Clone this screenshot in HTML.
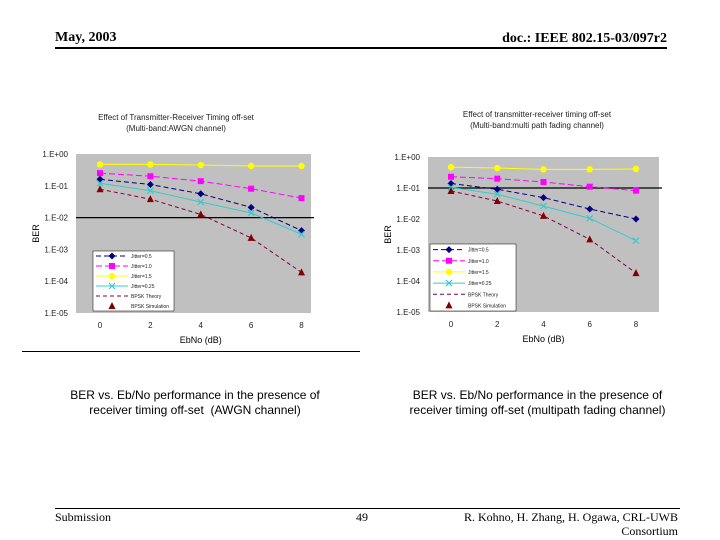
<!DOCTYPE html>
<html><head><meta charset="utf-8"><style>
body{margin:0;width:720px;height:540px;background:#fff;position:relative;overflow:hidden;font-family:"Liberation Sans",sans-serif}
.t{position:absolute;white-space:nowrap}
.serif{font-family:"Liberation Serif",serif}
</style></head><body>
<div class="t serif" style="left:55px;top:30px;font-size:14px;font-weight:bold">May, 2003</div>
<div class="t serif" style="right:53px;top:31px;font-size:14px;font-weight:bold">doc.: IEEE 802.15-03/097r2</div>
<div style="position:absolute;left:55px;top:47px;width:612px;height:2px;background:#000"></div>
<div style="position:absolute;left:22px;top:351px;width:338px;height:1px;background:#000"></div>
<div class="t" style="left:40px;top:388px;width:310px;text-align:center;font-size:12px;line-height:15px">BER vs. Eb/No performance in the presence of<br>receiver timing off-set&nbsp; (AWGN channel)</div>
<div class="t" style="left:385px;top:388px;width:305px;text-align:center;font-size:12px;line-height:15px">BER vs. Eb/No performance in the presence of<br>receiver timing off-set (multipath fading channel)</div>
<div style="position:absolute;left:55px;top:508px;width:625px;height:1px;background:#000"></div>
<div class="t serif" style="left:55px;top:510px;font-size:12px">Submission</div>
<div class="t serif" style="left:356px;top:510px;font-size:12px">49</div>
<div class="t serif" style="right:42px;top:510px;font-size:12px;text-align:right;line-height:14px">R. Kohno, H. Zhang, H. Ogawa, CRL-UWB<br>Consortium</div>
<svg id="svg" width="720" height="540" style="position:absolute;left:0;top:0"></svg>
<script>
const xCats=[0,2,4,6,8];
const yTicks=["1.E+00","1.E-01","1.E-02","1.E-03","1.E-04","1.E-05"];
const legendNames=["Jitter=0.5","Jitter=1.0","Jitter=1.5","Jitter=0.25","BPSK Theory","BPSK Simulation"];
const awgnJ05=[0.16,0.11,0.056,0.021,0.0039];
const awgnJ10=[0.25,0.2,0.14,0.081,0.041];
const awgnJ15=[0.47,0.47,0.45,0.42,0.42];
const awgnJ025=[0.12,0.07,0.031,0.014,0.003];
const awgnTheory=[0.078,0.038,0.0126,0.0023,0.00019];
const awgnSim=[0.078,0.038,0.0126,0.0023,0.00019];
const fadJ05=[0.14,0.091,0.049,0.021,0.01];
const fadJ10=[0.23,0.2,0.156,0.11,0.082];
const fadJ15=[0.47,0.44,0.40,0.40,0.41];
const fadJ025=[0.105,0.063,0.026,0.0105,0.002];
const fadTheory=[0.08,0.038,0.0126,0.0022,0.00018];
const fadSim=[0.08,0.038,0.0126,0.0022,0.00018];
const NS="http://www.w3.org/2000/svg";
const svg=document.getElementById('svg');
function el(tag,attrs,parent){const e=document.createElementNS(NS,tag);for(const k in attrs)e.setAttribute(k,attrs[k]);(parent||svg).appendChild(e);return e;}
function chart(c){
  const g=el('g',{});
  
  
  const xs=v=>c.x0+(v-xCats[0])/(xCats[xCats.length-1]-xCats[0])*(c.x8-c.x0);
  const ys=v=>c.top+(-Math.log10(v))*(c.bot-c.top)/5;
  const bg=el('rect',{x:c.l,y:c.top,width:c.r-c.l,height:c.bot-c.top,fill:'#c0c0c0'},g);
  
  
  const t1=el('text',{x:c.tx,y:c.ty,'font-size':8,'text-anchor':'middle',fill:'#222'},g);t1.textContent=c.title1;
  
  
  const t2=el('text',{x:c.tx,y:c.ty+11,'font-size':8,'text-anchor':'middle',fill:'#222'},g);t2.textContent=c.title2;
  
  
  yTicks.forEach((lab,i)=>{
    const y=c.top+i*(c.bot-c.top)/5;
    const t=el('text',{x:c.l-8,y:y+3,'font-size':8,'text-anchor':'end',fill:'#222'},g);t.textContent=lab;
    
    
  });
  xCats.forEach(v=>{
    const t=el('text',{x:xs(v),y:c.bot+15,'font-size':8,'text-anchor':'middle',fill:'#222'},g);t.textContent=v;
    
    
  });
  const yt=el('text',{x:0,y:0,'font-size':9,'text-anchor':'middle',transform:`translate(${c.l-37},${(c.top+c.bot)/2}) rotate(-90)`},g);yt.textContent='BER';
  
  
  const xt=el('text',{x:(c.x0+c.x8)/2,y:c.bot+30,'font-size':9,'text-anchor':'middle'},g);xt.textContent='EbNo (dB)';
  
  
  const ref=el('line',{x1:c.l,x2:c.r+3,y1:ys(c.refLine),y2:ys(c.refLine),stroke:'#000','stroke-width':1.2},g);
  
  
  const series=[
    {d:c.s[0],col:'#000080',dash:'5,3',m:'diamond'},
    {d:c.s[1],col:'#ff00ff',dash:'6,3',m:'square'},
    {d:c.s[2],col:'#ffff00',dash:'',m:'circle'},
    {d:c.s[3],col:'#33cccc',dash:'',m:'x'},
    {d:c.s[4],col:'#800040',dash:'4,3',m:null},
    {d:c.s[5],col:null,dash:'',m:'tri'}];
  function marker(m,x,y,col,parent){
    if(m==='diamond')return el('polygon',{points:`${x},${y-3.5} ${x+3.5},${y} ${x},${y+3.5} ${x-3.5},${y}`,fill:col},parent);
    if(m==='square')return el('rect',{x:x-3,y:y-3,width:6,height:6,fill:col},parent);
    if(m==='circle')return el('circle',{cx:x,cy:y,r:3.2,fill:col},parent);
    if(m==='x')return el('path',{d:`M${x-3},${y-3}L${x+3},${y+3}M${x-3},${y+3}L${x+3},${y-3}`,stroke:col,'stroke-width':1.2},parent);
    if(m==='tri')return el('polygon',{points:`${x},${y-4} ${x+3.5},${y+3} ${x-3.5},${y+3}`,fill:'#800000'},parent);
  }
  series.forEach((s,si)=>{
    const sg=el('g',{},g);
    
    
    if(s.col){
      const p=el('polyline',{points:s.d.map((v,i)=>xs(xCats[i])+','+ys(v)).join(' '),fill:'none',stroke:s.col,'stroke-width':1,'stroke-dasharray':s.dash},sg);
      
      
    }
    if(s.m)s.d.forEach((v,i)=>{const mk=marker(s.m,xs(xCats[i]),ys(v),s.col,sg);
      
      });
  });
  const lg=el('g',{},g);
  
  
  el('rect',{x:c.lg[0],y:c.lg[1],width:c.lg[2],height:c.lg[3],fill:'#fff',stroke:'#000','stroke-width':0.5},lg);
  const rh=c.lg[3]/6;
  series.forEach((s,i)=>{
    const y=c.lg[1]+rh*(i+0.5);const x1=c.lg[0]+3,x2=c.lg[0]+35;
    const e=el('g',{},lg);
    
    
    if(s.col)el('line',{x1:x1,x2:x2,y1:y,y2:y,stroke:s.col,'stroke-dasharray':s.dash},e);
    if(s.m)marker(s.m,(x1+x2)/2,y,s.col,e);
    const t=el('text',{x:x2+3,y:y+2,'font-size':5,fill:'#222'},e);t.textContent=legendNames[i];
  });
}
chart({name:'awgn-chart',l:76,r:311,top:154,bot:313,x0:100,x8:301.5,tx:176,ty:120,refLine:0.01,
  title1:'Effect of Transmitter-Receiver Timing off-set',title2:'(Multi-band:AWGN channel)',
  s:[awgnJ05,awgnJ10,awgnJ15,awgnJ025,awgnTheory,awgnSim],lg:[93,251,81,60]});
chart({name:'fading-chart',l:428,r:659,top:157,bot:312,x0:451,x8:636,tx:537,ty:117,refLine:0.1,
  title1:'Effect of transmitter-receiver timing off-set',title2:'(Multi-band:multi path fading channel)',
  s:[fadJ05,fadJ10,fadJ15,fadJ025,fadTheory,fadSim],lg:[430,244,86,67]});
</script>
</body></html>
